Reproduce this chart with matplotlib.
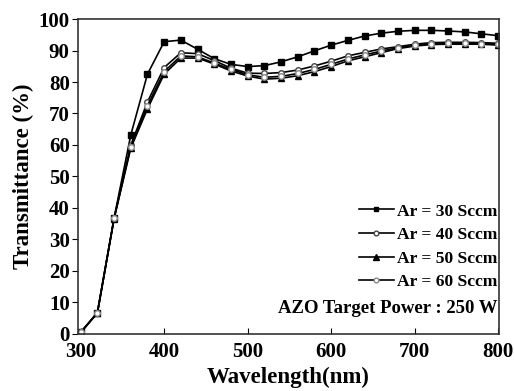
import numpy as np
import matplotlib.pyplot as plt

wavelength = np.arange(300, 801, 20)

ar30 = [0.5, 6.8, 36.8, 63.2, 82.5, 92.8, 93.3, 90.4, 87.4, 85.6, 84.9, 85.2, 86.4,
        88.0, 89.9, 91.7, 93.2, 94.6, 95.5, 96.1, 96.4, 96.4, 96.2, 95.9, 95.3, 94.7]
ar40 = [0.5, 6.8, 36.8, 60.0, 73.7, 84.6, 89.3, 89.0, 86.8, 84.4, 82.8, 82.7, 83.0,
        83.8, 85.1, 86.6, 88.3, 89.4, 90.5, 91.2, 92.0, 92.5, 92.6, 92.6, 92.5, 92.3]
ar50 = [0.5, 6.6, 36.6, 59.0, 71.5, 82.5, 87.6, 87.6, 85.7, 83.5, 81.9, 80.9, 81.2,
        82.0, 83.3, 84.9, 86.7, 88.0, 89.3, 90.6, 91.4, 91.9, 92.0, 92.0, 92.0, 91.7]
ar60 = [0.5, 6.7, 36.7, 59.5, 72.5, 83.3, 88.3, 88.0, 86.0, 84.0, 82.3, 81.5, 81.8,
        82.7, 84.0, 85.6, 87.3, 88.6, 89.8, 90.9, 91.6, 92.1, 92.3, 92.3, 92.2, 92.0]

labels = ["Ar = 30 Sccm", "Ar = 40 Sccm", "Ar = 50 Sccm", "Ar = 60 Sccm"]

plt.rcParams['font.family'] = ['Liberation Serif', 'DejaVu Serif']
plt.rcParams['font.weight'] = 'bold'

fig = plt.figure(figsize=(5.14, 3.91), dpi=100)
ax = fig.add_axes([0.1518, 0.1458, 0.8190, 0.8056])

styles = [
    dict(marker='s', mfc='black', mec='black', ms=4),
    dict(marker='o', mfc='white', mec='#444444', ms=4),
    dict(marker='^', mfc='black', mec='black', ms=4.5),
    dict(marker='o', mfc='white', mec='#888888', ms=4),
]
series = [ar30, ar40, ar50, ar60]

handles = []
for y, st, lab in zip(series, styles, labels):
    ln, = ax.plot(wavelength, y, color='black', lw=1.2, label=lab, **st)
    handles.append(ln)

ax.set_xlim(296.8, 801)
ax.set_ylim(0, 100)
ax.set_xticks([300, 400, 500, 600, 700, 800])
ax.set_yticks(np.arange(0, 101, 10))
ax.tick_params(axis='x', direction='in', length=4, labelsize=15, pad=6)
ax.tick_params(axis='y', direction='out', length=4, labelsize=15, pad=2)
for lab in ax.get_xticklabels() + ax.get_yticklabels():
    lab.set_fontweight('bold')
for sp in ax.spines.values():
    sp.set_color('#333333')
    sp.set_linewidth(1.2)

ax.set_xlabel("Wavelength(nm)", fontsize=16.5, fontweight='bold', labelpad=3)
ax.set_ylabel("Transmittance (%)", fontsize=16.5, fontweight='bold', labelpad=3)

leg = ax.legend(handles=handles, loc='lower right', bbox_to_anchor=(1.022, 0.105),
                frameon=False, fontsize=12.6, handlelength=2.0, handletextpad=0.2,
                labelspacing=0.42, borderaxespad=0.2, markerscale=0.85)
for t in leg.get_texts():
    t.set_fontweight('bold')

ax.text(0.997, 0.08, "AZO Target Power : 250 W", transform=ax.transAxes,
        ha='right', va='center', fontsize=13.5, fontweight='bold')

fig.savefig("out.png", dpi=100)
